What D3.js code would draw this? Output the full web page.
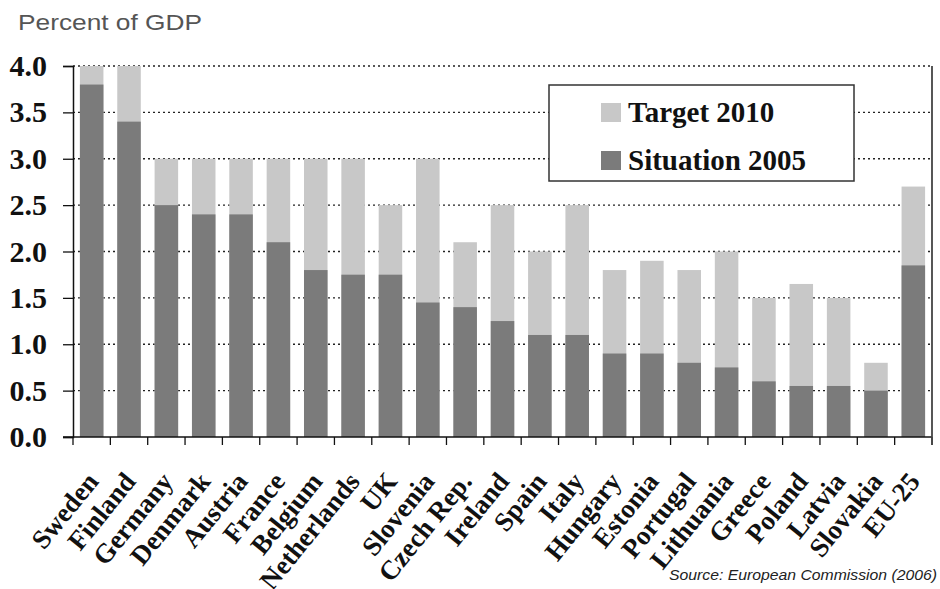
<!DOCTYPE html>
<html>
<head>
<meta charset="utf-8">
<script src="https://cdn.jsdelivr.net/npm/d3@7"></script>
<style>
  body { margin: 0; background: #fff; }
  svg { display: block; }
  .serif { font-family: "Liberation Serif", "Times New Roman", Times, serif; font-weight: bold; }
  .sans { font-family: "Liberation Sans", Arial, Helvetica, sans-serif; }
</style>
</head>
<body>
<div id="chart"></div>
<script>
const countries = ["Sweden", "Finland", "Germany", "Denmark", "Austria", "France", "Belgium",
  "Netherlands", "UK", "Slovenia", "Czech Rep.", "Ireland", "Spain", "Italy", "Hungary",
  "Estonia", "Portugal", "Lithuania", "Greece", "Poland", "Latvia", "Slovakia", "EU-25"];
const situation2005 = [3.8, 3.4, 2.5, 2.4, 2.4, 2.1, 1.8, 1.75, 1.75, 1.45, 1.4, 1.25, 1.1, 1.1,
  0.9, 0.9, 0.8, 0.75, 0.6, 0.55, 0.55, 0.5, 1.85];
const target2010 = [4.0, 4.0, 3.0, 3.0, 3.0, 3.0, 3.0, 3.0, 2.5, 3.0, 2.1, 2.5, 2.0, 2.5,
  1.8, 1.9, 1.8, 2.0, 1.5, 1.65, 1.5, 0.8, 2.7];
const yTicks = [0, 0.5, 1.0, 1.5, 2.0, 2.5, 3.0, 3.5, 4.0];
const legendItems = [
  { label: "Target 2010", color: "#c8c8c8" },
  { label: "Situation 2005", color: "#7b7b7b" }
];

const W = 940, H = 589;
const plotL = 73, plotR = 932, plotT = 66, plotB = 437;

const svg = d3.select("#chart").append("svg").attr("width", W).attr("height", H);
svg.append("rect").attr("width", W).attr("height", H).attr("fill", "#fff");

const x = d3.scaleBand().domain(countries).range([plotL, plotR]).paddingInner(0.37).paddingOuter(0.185);
const y = d3.scaleLinear().domain([0, 4]).range([plotB, plotT]);

// title
svg.append("text").attr("class", "sans").attr("x", 18).attr("y", 30)
  .style("font-size", "22px").attr("fill", "#555")
  .attr("textLength", 184).attr("lengthAdjust", "spacingAndGlyphs")
  .text("Percent of GDP");

// dotted gridlines
svg.append("g").selectAll("line").data(yTicks.filter(d => d > 0)).enter().append("line")
  .attr("x1", plotL).attr("x2", plotR).attr("y1", d => y(d)).attr("y2", d => y(d))
  .attr("stroke", "#222").attr("stroke-width", 1.3).attr("stroke-dasharray", "2,3");

// bars
const data = countries.map((c, i) => ({ c, s: situation2005[i], t: target2010[i] }));
svg.append("g").selectAll("rect").data(data).enter().append("rect")
  .attr("x", d => x(d.c)).attr("width", x.bandwidth())
  .attr("y", d => y(d.t)).attr("height", d => y(0) - y(d.t))
  .attr("fill", legendItems[0].color);
svg.append("g").selectAll("rect").data(data).enter().append("rect")
  .attr("x", d => x(d.c)).attr("width", x.bandwidth())
  .attr("y", d => y(d.s)).attr("height", d => y(0) - y(d.s))
  .attr("fill", legendItems[1].color);

// y axis
const yAxis = svg.append("g").attr("transform", `translate(${plotL},0)`)
  .call(d3.axisLeft(y).tickValues(yTicks).tickSize(10).tickPadding(16).tickFormat(d3.format(".1f")));
yAxis.attr("font-family", null).attr("font-size", null);
yAxis.select(".domain").attr("stroke", "#111").attr("stroke-width", 1.5);
yAxis.selectAll(".tick line").attr("stroke", "#111").attr("stroke-width", 1.3);
yAxis.selectAll("text").attr("class", "serif").style("font-size", "30px").attr("fill", "#111");

// x axis line + boundary ticks
svg.append("line").attr("x1", plotL - 10).attr("x2", plotR).attr("y1", plotB).attr("y2", plotB)
  .attr("stroke", "#111").attr("stroke-width", 1.5);
const bounds = d3.range(countries.length + 1).map(i => plotL + i * x.step());
svg.append("g").selectAll("line").data(bounds).enter().append("line")
  .attr("x1", d => d).attr("x2", d => d).attr("y1", plotB).attr("y2", plotB + 8)
  .attr("stroke", "#111").attr("stroke-width", 1.3);

// right border
svg.append("line").attr("x1", plotR).attr("x2", plotR).attr("y1", plotT).attr("y2", plotB + 8)
  .attr("stroke", "#444").attr("stroke-width", 1.8);

// x labels
svg.append("g").selectAll("text").data(countries).enter().append("text")
  .attr("class", "serif")
  .attr("transform", d => `translate(${x(d) + x.bandwidth() / 2 + 8},${plotB + 45}) rotate(-51)`)
  .attr("text-anchor", "end")
  .style("font-size", "27px").attr("fill", "#111")
  .text(d => d);

// legend
const lg = svg.append("g");
lg.append("rect").attr("x", 549).attr("y", 85).attr("width", 305).attr("height", 96)
  .attr("fill", "#fff").attr("stroke", "#333").attr("stroke-width", 1.5);
legendItems.forEach((it, i) => {
  lg.append("rect").attr("x", 601).attr("y", 103 + i * 48).attr("width", 20).attr("height", 19)
    .attr("fill", it.color);
  lg.append("text").attr("class", "serif").attr("x", 628).attr("y", 122 + i * 48)
    .style("font-size", "29px").attr("fill", "#111")
    .text(it.label);
});

// source
svg.append("text").attr("class", "sans").attr("x", 937).attr("y", 580).attr("text-anchor", "end")
  .style("font-style", "italic").style("font-size", "15px").attr("fill", "#222")
  .attr("textLength", 268).attr("lengthAdjust", "spacingAndGlyphs")
  .text("Source: European Commission (2006)");
</script>
</body>
</html>
